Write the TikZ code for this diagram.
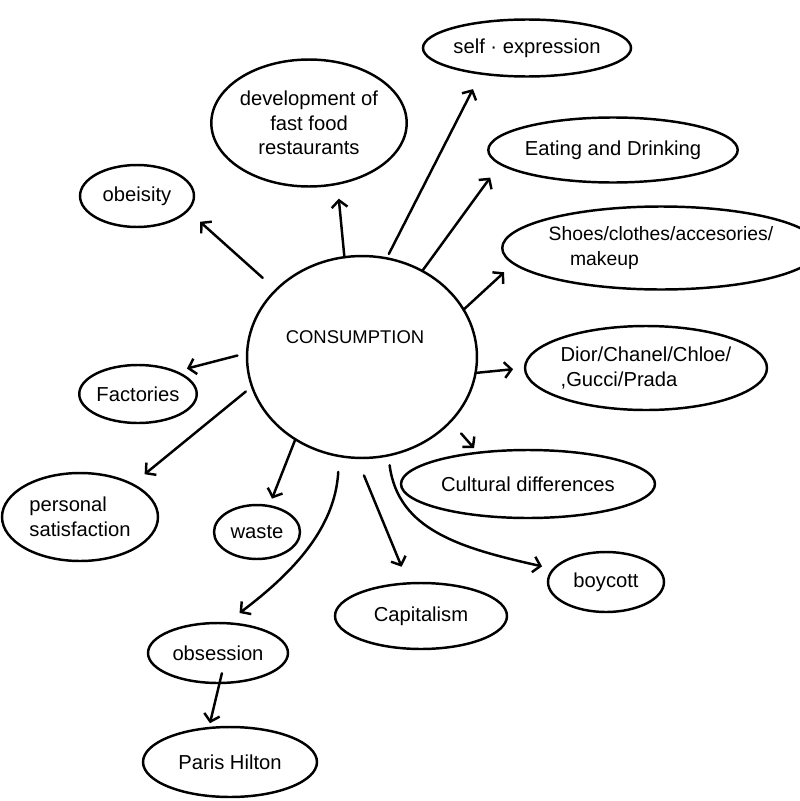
\documentclass[tikz,border=0pt]{standalone}
\usepackage{fontspec}
\setmainfont{Liberation Sans}
\usetikzlibrary{shapes.geometric,arrows.meta}
\begin{document}
\begin{tikzpicture}[x=0.02cm,y=-0.02cm,
  bub/.style={draw,ellipse,line width=1.4pt,inner sep=0pt,outer sep=0pt,
    font=\fontsize{11.5}{14}\selectfont},
  arr/.style={line width=1.4pt,line cap=round,
    -{Straight Barb[length=4pt,width=9pt,line width=1.4pt]}}]
\useasboundingbox (0,0) rectangle (800,801);

% centre
\node[bub,minimum width=4.6cm,minimum height=4.04cm] (C) at (362,357) {};
\node[font=\fontsize{10.5}{12}\selectfont] (Ct) at (355,337) {CONSUMPTION};

% bubbles
\node[bub,minimum width=3.6cm,minimum height=1.14cm] (self) at (527,48) {self · expression};
\node[bub,minimum width=3.56cm,minimum height=2.54cm,align=center] (dev) at (309,123)
  {development of\\fast food\\restaurants};
\node[bub,minimum width=4.52cm,minimum height=1.3cm] (eat) at (613,150) {Eating and Drinking};
\node[bub,minimum width=2.28cm,minimum height=1.24cm] (obe) at (137,196) {obeisity};
\node[bub,minimum width=5.3cm,minimum height=1.66cm,align=left,
  font=\fontsize{11}{14}\selectfont] (shoes) at (661,248)
  {Shoes/clothes/accesories/\\\hspace*{1.1em}makeup};
\node[bub,minimum width=4.84cm,minimum height=1.68cm,align=left] (dior) at (646,368)
  {Dior/Chanel/Chloe/\\,Gucci/Prada};
\node[bub,minimum width=2.16cm,minimum height=1.16cm] (fact) at (138,394) {Factories};
\node[bub,minimum width=5.08cm,minimum height=1.36cm] (cult) at (528,484) {Cultural differences};
\node[bub,minimum width=3.12cm,minimum height=1.76cm,align=left] (pers) at (80,517)
  {personal\\satisfaction};
\node[bub,minimum width=1.72cm,minimum height=1.08cm] (waste) at (257,532) {waste};
\node[bub,minimum width=2.32cm,minimum height=1.2cm] (boy) at (606,582) {boycott};
\node[bub,minimum width=3.44cm,minimum height=1.32cm] (cap) at (421,616) {Capitalism};
\node[bub,minimum width=2.8cm,minimum height=1.2cm] (obs) at (218,653) {obsession};
\node[bub,minimum width=3.48cm,minimum height=1.4cm] (paris) at (230,762) {Paris Hilton};

% connectors
\draw[arr,shorten >=0.3cm] (C.100.6) -- (dev.295);
\draw[arr,shorten <=0.1cm,shorten >=0.35cm] (C.76.5) -- (self.209.5);
\draw[arr,shorten >=0.34cm] (C.55.6) -- (eat.187.7);
\draw[arr,shorten >=0.26cm] (C.25) -- (shoes.186.5);
\draw[arr,shorten >=0.24cm] (C.352.7) -- (dior.180);
\draw[arr,shorten <=0.32cm,shorten >=0.12cm] (C.324.7) -- (cult.148.7);
\draw[arr,shorten <=0.2cm,shorten >=0.24cm] (C.285.5) .. controls (398,530) and (460,548) .. (boy.166);
\draw[arr,shorten <=0.38cm,shorten >=0.36cm] (C.267.6) -- (cap.111.5);
\draw[arr,shorten <=0.32cm,shorten >=0.34cm] (C.257.7) .. controls (335,530) and (290,575) .. (obs.75);
\draw[arr,shorten >=0.16cm] (C.231) -- (waste.65);
\draw[arr,shorten <=0.16cm,shorten >=0.32cm] (C.195.8) -- (pers.32);
\draw[arr,shorten <=0.2cm,shorten >=0.24cm] (C.178.6) -- (fact.31.7);
\draw[arr,shorten <=0.36cm,shorten >=0.34cm] (C.142) -- (obe.344);
\draw[arr,shorten <=-0.2cm,shorten >=0.1cm] (obs.273) -- (paris.122.5);
\end{tikzpicture}
\end{document}
